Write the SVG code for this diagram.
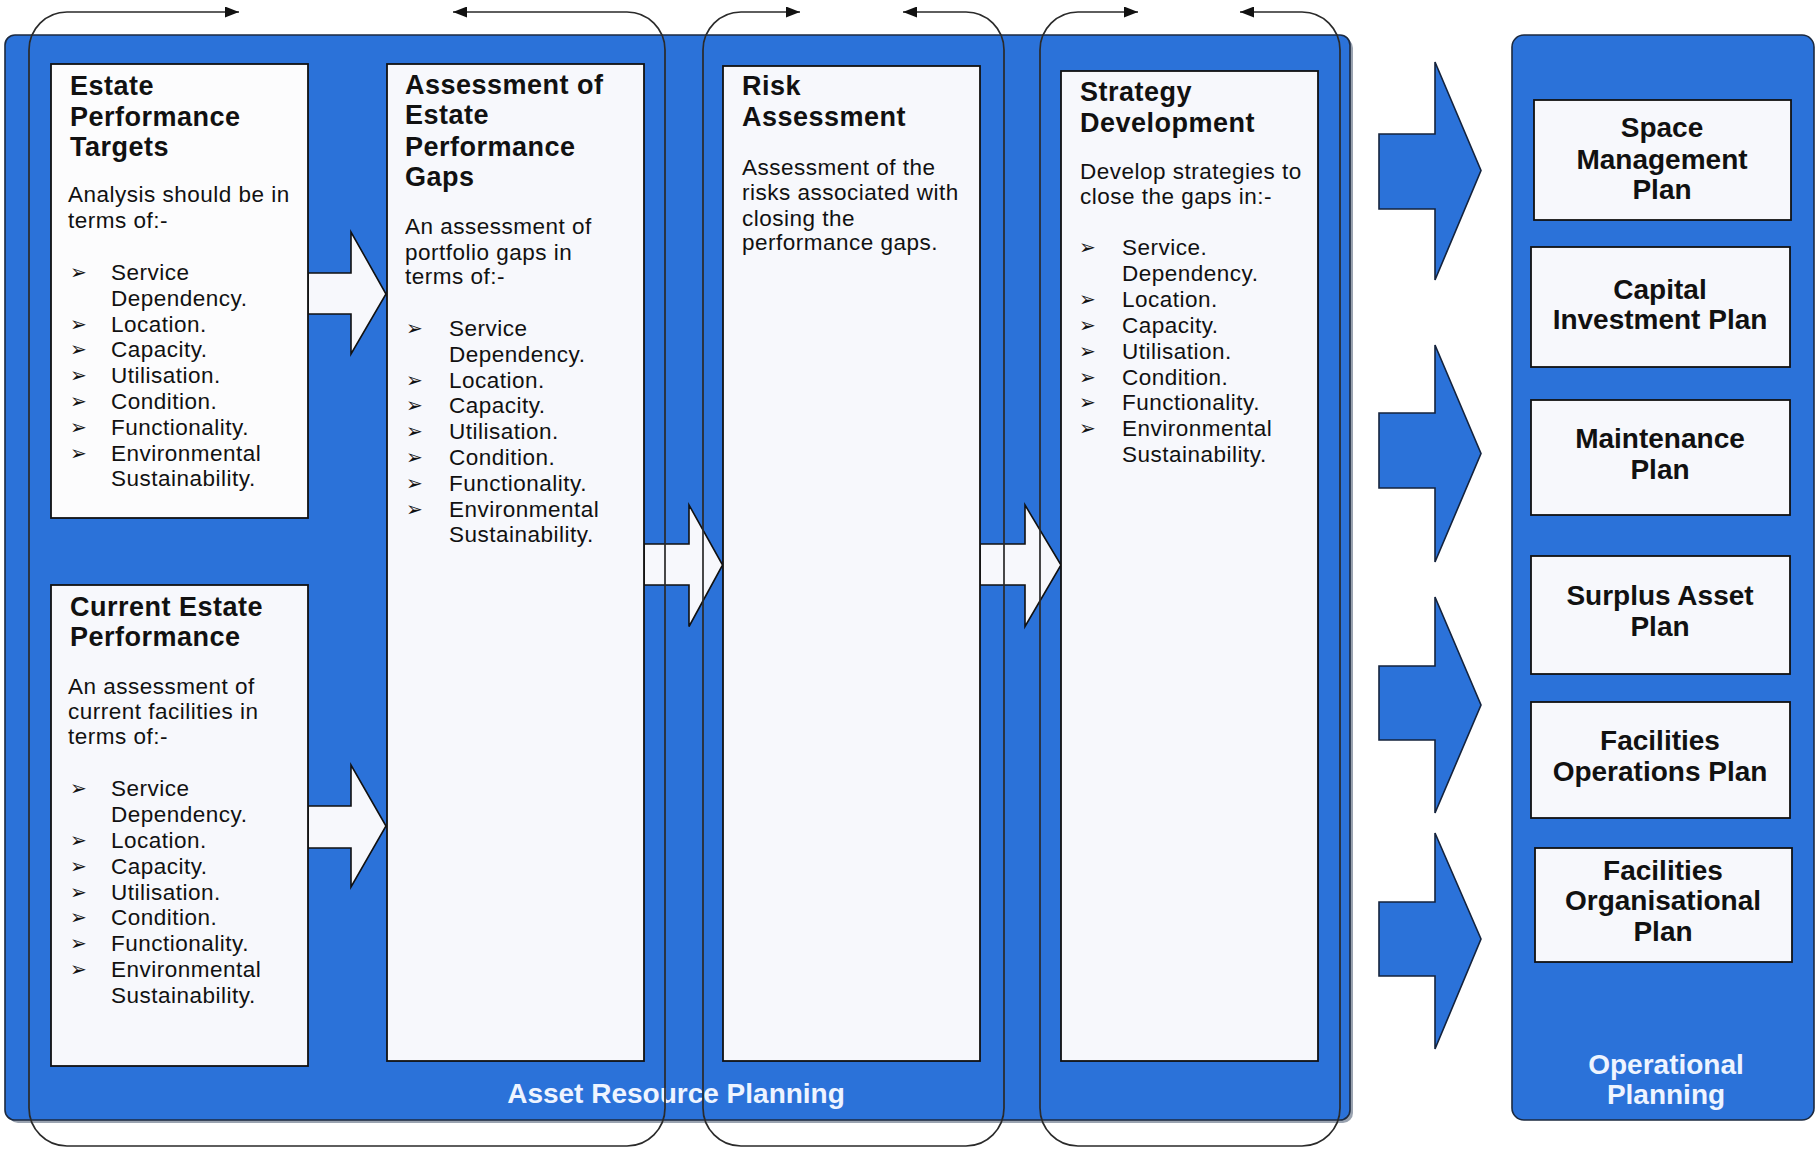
<svg xmlns="http://www.w3.org/2000/svg" width="1816" height="1149" viewBox="0 0 1816 1149">
<style>
.frame{fill:#2b72d9;stroke:#1c2a40;stroke-width:1.6}
.box{fill:#f7f8fc;stroke:#111;stroke-width:1.8}
.warr{fill:#f7f8fc;stroke:#111;stroke-width:1.6;stroke-linejoin:miter}
.barr{fill:#2b72d9;stroke:#14233d;stroke-width:1.6}
.loop{fill:none;stroke:#2a2a2a;stroke-width:1.7}
.ttl{font-family:"Liberation Sans",Arial,sans-serif;font-weight:bold;font-size:27px;letter-spacing:0.5px;fill:#111}
.bd{font-family:"Liberation Sans",Arial,sans-serif;font-size:22.5px;letter-spacing:0.5px;fill:#111}
.bul{font-family:"DejaVu Sans",sans-serif;font-size:20px;fill:#111}
.pl{font-family:"Liberation Sans",Arial,sans-serif;font-weight:bold;font-size:28px;fill:#111;text-anchor:middle}
.lbl{font-family:"Liberation Sans",Arial,sans-serif;font-weight:bold;font-size:28px;fill:#eef4ff;text-anchor:middle}
</style>
<defs>
<marker id="ah" viewBox="0 0 14 11" refX="14" refY="5.5" markerWidth="14" markerHeight="11" markerUnits="userSpaceOnUse" orient="auto-start-reverse">
<path d="M0,0 L14,5.5 L0,11 z" fill="#111"/>
</marker>
</defs>
<rect width="1816" height="1149" fill="#ffffff"/>

<g id="asset-resource-planning">
<rect x="8" y="38" width="1345" height="1085" rx="10" fill="#9aa3b0"/>
<rect class="frame" x="5" y="35" width="1345" height="1085" rx="10"/>
<text class="lbl" x="676" y="1103">Asset Resource Planning</text>
</g>

<g id="operational-planning">
<rect class="frame" x="1512" y="35" width="302" height="1085" rx="12"/>
<text class="lbl" x="1666" y="1074">Operational</text>
<text class="lbl" x="1666" y="1104">Planning</text>
</g>

<g id="connectors">
<polygon class="warr" points="308,273 351,273 351,232 386,294 351,354 351,314 308,314"/>
<polygon class="warr" points="308,806 351,806 351,765 386,826 351,887 351,848 308,848"/>
<polygon class="warr" points="644,544 689,544 689,505 722.6,565 689,626.5 689,585 644,585"/>
<polygon class="warr" points="980,544 1025,544 1025,505 1061,565 1025,626.5 1025,585 980,585"/>
<polygon class="barr" points="1379,134 1435,134 1435,62 1481,170.5 1435,280 1435,209 1379,209"/>
<polygon class="barr" points="1379,413 1435,413 1435,345 1481,453.5 1435,562 1435,488 1379,488"/>
<polygon class="barr" points="1379,666 1435,666 1435,597 1481,705 1435,813 1435,740 1379,740"/>
<polygon class="barr" points="1379,902 1435,902 1435,833 1481,939 1435,1049 1435,976 1379,976"/>
</g>

<g id="estate-performance-targets">
<rect class="box" x="51" y="64" width="257" height="454" style="fill:#fcfcfd"/>
<text class="ttl"><tspan x="70" y="95">Estate</tspan><tspan x="70" y="126">Performance</tspan><tspan x="70" y="156">Targets</tspan></text>
<text class="bd"><tspan x="68" y="202">Analysis should be in</tspan><tspan x="68" y="228">terms of:-</tspan></text>
<text class="bul"><tspan x="70" y="279">➢</tspan><tspan x="70" y="330.6">➢</tspan><tspan x="70" y="356.4">➢</tspan><tspan x="70" y="382.2">➢</tspan><tspan x="70" y="408">➢</tspan><tspan x="70" y="433.8">➢</tspan><tspan x="70" y="459.6">➢</tspan></text>
<text class="bd"><tspan x="111" y="280">Service</tspan><tspan x="111" y="305.8">Dependency.</tspan><tspan x="111" y="331.6">Location.</tspan><tspan x="111" y="357.4">Capacity.</tspan><tspan x="111" y="383.2">Utilisation.</tspan><tspan x="111" y="409">Condition.</tspan><tspan x="111" y="434.8">Functionality.</tspan><tspan x="111" y="460.6">Environmental</tspan><tspan x="111" y="486.4">Sustainability.</tspan></text>
</g>

<g id="current-estate-performance">
<rect class="box" x="51" y="585" width="257" height="481"/>
<text class="ttl"><tspan x="70" y="615.6">Current Estate</tspan><tspan x="70" y="645.7">Performance</tspan></text>
<text class="bd"><tspan x="68" y="693.5">An assessment of</tspan><tspan x="68" y="718.6">current facilities in</tspan><tspan x="68" y="744">terms of:-</tspan></text>
<text class="bul"><tspan x="70" y="795">➢</tspan><tspan x="70" y="847">➢</tspan><tspan x="70" y="872.6">➢</tspan><tspan x="70" y="898.5">➢</tspan><tspan x="70" y="924.4">➢</tspan><tspan x="70" y="950.3">➢</tspan><tspan x="70" y="976.2">➢</tspan></text>
<text class="bd"><tspan x="111" y="796">Service</tspan><tspan x="111" y="822">Dependency.</tspan><tspan x="111" y="848">Location.</tspan><tspan x="111" y="873.6">Capacity.</tspan><tspan x="111" y="899.5">Utilisation.</tspan><tspan x="111" y="925.4">Condition.</tspan><tspan x="111" y="951.3">Functionality.</tspan><tspan x="111" y="977.2">Environmental</tspan><tspan x="111" y="1003">Sustainability.</tspan></text>
</g>

<g id="assessment-of-gaps">
<rect class="box" x="387" y="64" width="257" height="997"/>
<text class="ttl"><tspan x="405" y="93.5">Assessment of</tspan><tspan x="405" y="124">Estate</tspan><tspan x="405" y="155.7">Performance</tspan><tspan x="405" y="186">Gaps</tspan></text>
<text class="bd"><tspan x="405" y="233.6">An assessment of</tspan><tspan x="405" y="259.5">portfolio gaps in</tspan><tspan x="405" y="284">terms of:-</tspan></text>
<text class="bul"><tspan x="406" y="335">➢</tspan><tspan x="406" y="386.6">➢</tspan><tspan x="406" y="412.4">➢</tspan><tspan x="406" y="438.2">➢</tspan><tspan x="406" y="464">➢</tspan><tspan x="406" y="489.8">➢</tspan><tspan x="406" y="515.6">➢</tspan></text>
<text class="bd"><tspan x="449" y="336">Service</tspan><tspan x="449" y="361.8">Dependency.</tspan><tspan x="449" y="387.6">Location.</tspan><tspan x="449" y="413.4">Capacity.</tspan><tspan x="449" y="439.2">Utilisation.</tspan><tspan x="449" y="465">Condition.</tspan><tspan x="449" y="490.8">Functionality.</tspan><tspan x="449" y="516.6">Environmental</tspan><tspan x="449" y="542.4">Sustainability.</tspan></text>
</g>

<g id="risk-assessment">
<rect class="box" x="723" y="66" width="257" height="995"/>
<text class="ttl"><tspan x="742" y="95.4">Risk</tspan><tspan x="742" y="126">Assessment</tspan></text>
<text class="bd"><tspan x="742" y="175">Assessment of the</tspan><tspan x="742" y="200.4">risks associated with</tspan><tspan x="742" y="226">closing the</tspan><tspan x="742" y="250">performance gaps.</tspan></text>
</g>

<g id="strategy-development">
<rect class="box" x="1061" y="71" width="257" height="990"/>
<text class="ttl"><tspan x="1080" y="101">Strategy</tspan><tspan x="1080" y="131.7">Development</tspan></text>
<text class="bd"><tspan x="1080" y="179.4">Develop strategies to</tspan><tspan x="1080" y="204.2">close the gaps in:-</tspan></text>
<text class="bul"><tspan x="1079" y="254">➢</tspan><tspan x="1079" y="305.8">➢</tspan><tspan x="1079" y="331.7">➢</tspan><tspan x="1079" y="357.6">➢</tspan><tspan x="1079" y="383.5">➢</tspan><tspan x="1079" y="409.4">➢</tspan><tspan x="1079" y="435.3">➢</tspan></text>
<text class="bd"><tspan x="1122" y="255">Service.</tspan><tspan x="1122" y="280.9">Dependency.</tspan><tspan x="1122" y="306.8">Location.</tspan><tspan x="1122" y="332.7">Capacity.</tspan><tspan x="1122" y="358.6">Utilisation.</tspan><tspan x="1122" y="384.5">Condition.</tspan><tspan x="1122" y="410.4">Functionality.</tspan><tspan x="1122" y="436.3">Environmental</tspan><tspan x="1122" y="462.2">Sustainability.</tspan></text>
</g>

<g id="space-management-plan">
<rect class="box" x="1534" y="100" width="257" height="120"/>
<text class="pl"><tspan x="1662" y="137">Space</tspan><tspan x="1662" y="168.6">Management</tspan><tspan x="1662" y="198.5">Plan</tspan></text>
</g>
<g id="capital-investment-plan">
<rect class="box" x="1531" y="247" width="259" height="120"/>
<text class="pl"><tspan x="1660" y="299">Capital</tspan><tspan x="1660" y="329">Investment Plan</tspan></text>
</g>
<g id="maintenance-plan">
<rect class="box" x="1531" y="400" width="259" height="115"/>
<text class="pl"><tspan x="1660" y="448">Maintenance</tspan><tspan x="1660" y="479">Plan</tspan></text>
</g>
<g id="surplus-asset-plan">
<rect class="box" x="1531" y="556" width="259" height="118"/>
<text class="pl"><tspan x="1660" y="605">Surplus Asset</tspan><tspan x="1660" y="636">Plan</tspan></text>
</g>
<g id="facilities-operations-plan">
<rect class="box" x="1531" y="702" width="259" height="116"/>
<text class="pl"><tspan x="1660" y="750">Facilities</tspan><tspan x="1660" y="781">Operations Plan</tspan></text>
</g>
<g id="facilities-organisational-plan">
<rect class="box" x="1535" y="848" width="257" height="114"/>
<text class="pl"><tspan x="1663" y="880">Facilities</tspan><tspan x="1663" y="910">Organisational</tspan><tspan x="1663" y="940.5">Plan</tspan></text>
</g>

<g id="loops">
<path class="loop" marker-start="url(#ah)" marker-end="url(#ah)" d="M239,12 H67 A38,38 0 0 0 29,50 V1108 A38,38 0 0 0 67,1146 H627 A38,38 0 0 0 665,1108 V50 A38,38 0 0 0 627,12 H453"/>
<path class="loop" marker-start="url(#ah)" marker-end="url(#ah)" d="M800,12 H741 A38,38 0 0 0 703,50 V1108 A38,38 0 0 0 741,1146 H966 A38,38 0 0 0 1004,1108 V50 A38,38 0 0 0 966,12 H903"/>
<path class="loop" marker-start="url(#ah)" marker-end="url(#ah)" d="M1138,12 H1078 A38,38 0 0 0 1040,50 V1108 A38,38 0 0 0 1078,1146 H1302 A38,38 0 0 0 1340,1108 V50 A38,38 0 0 0 1302,12 H1240"/>
</g>
</svg>
